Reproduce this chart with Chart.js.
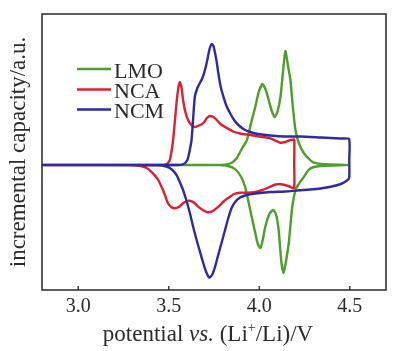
<!DOCTYPE html>
<html lang="en">
<head>
    <meta charset="UTF-8">
    <title>Incremental capacity curves</title>
    <style>
        body { margin: 0; background: #fff; }
        #wrap { width: 400px; height: 351px; }
    </style>
</head>
<body>

<div id="wrap">
    <canvas id="icChart" width="400" height="351"></canvas>
</div>

<script src="https://cdn.jsdelivr.net/npm/chart.js"></script>
<script>
  // series: potential (V) and incremental capacity (a.u.)
  const seriesNames = ['LMO', 'NCA', 'NCM'];
  const seriesColors = ['#4e9e2a', '#e01e30', '#2e2aa2'];
  const xTicks = [3.0, 3.5, 4.0, 4.5];

  const lmoPotential = [3.50, 3.783, 3.839, 3.872, 3.900, 3.932, 3.956, 3.978, 3.997, 4.018, 4.036, 4.052, 4.069, 4.085,
    4.100, 4.117, 4.131, 4.144, 4.158, 4.172, 4.186, 4.200, 4.218, 4.246, 4.278, 4.302, 4.357, 4.494,
    4.357, 4.302, 4.272, 4.246, 4.218, 4.200, 4.182, 4.163, 4.147, 4.135, 4.122, 4.107, 4.092, 4.076,
    4.056, 4.033, 4.019, 4.006, 3.992, 3.978, 3.950, 3.922, 3.900, 3.872, 3.839, 3.783, 3.50];
  const lmoCapacity = [0, 0, 1.5, 6, 15, 25, 43, 58, 73, 81, 75, 65, 54, 48,
    53, 68, 93, 114, 100, 85, 57, 35, 22, 12, 5.5, 2.3, 0.7, 0,
    -0.7, -2, -5, -12, -19, -25, -42, -78, -97, -108, -97, -65, -49, -45,
    -49, -62, -75, -83, -79, -68, -45, -22, -12, -5, -1.5, 0, 0];

  const ncaPotential = [2.80, 3.45, 3.489, 3.506, 3.524, 3.543, 3.553, 3.561, 3.571, 3.579,
    3.592, 3.607, 3.625, 3.644, 3.667, 3.691, 3.711, 3.728, 3.747, 3.765,
    3.789, 3.821, 3.856, 3.894, 3.950, 4.017, 4.061, 4.094, 4.117, 4.144,
    4.172, 4.192, 4.194, 4.193, 4.192,
    4.161, 4.117, 4.089, 4.061, 4.017, 3.978, 3.933, 3.894, 3.861, 3.839,
    3.806, 3.774, 3.744, 3.718, 3.692, 3.663, 3.639, 3.617, 3.594, 3.579,
    3.556, 3.533, 3.514, 3.496, 3.481, 3.468, 3.442, 3.413, 3.378, 3.339,
    3.283, 2.80];
  const ncaCapacity = [0, 0, 1, 5, 25, 62, 77, 83, 77, 65,
    53, 45, 40, 38, 39.5, 42, 47, 49, 48, 45,
    40.5, 37, 33.5, 31.5, 30, 28, 26.7, 24, 22.3, 23,
    25, 25.5, 24, 0, -23,
    -21, -19.3, -19.5, -21.7, -25, -27, -27.7, -27.7, -29, -31.7,
    -36, -41.7, -46, -47.3, -45.5, -41.7, -37.5, -35.7, -36.5, -38.3,
    -42, -43.3, -42, -38.3, -31, -25, -15, -8.3, -3, -0.8,
    0, 0];

  const ncmPotential = [2.80, 3.55, 3.583, 3.603, 3.614, 3.626, 3.635, 3.644, 3.658, 3.672,
    3.686, 3.700, 3.713, 3.724, 3.737, 3.747, 3.756, 3.765, 3.774, 3.786,
    3.802, 3.819, 3.839, 3.861, 3.885, 3.917, 3.950, 3.994, 4.061, 4.144,
    4.228, 4.339, 4.450, 4.496, 4.497, 4.496,
    4.472, 4.450, 4.411, 4.372, 4.339, 4.283, 4.209, 4.144, 4.061, 3.978,
    3.922, 3.894, 3.867, 3.847, 3.829, 3.811, 3.793, 3.774, 3.756, 3.741,
    3.724, 3.708, 3.691, 3.672, 3.654, 3.635, 3.617, 3.597, 3.579, 3.561,
    3.543, 3.517, 3.487, 3.439, 2.80];
  const ncmCapacity = [0, 0, 1, 5, 13, 25, 47, 68, 77, 82,
    87, 95, 105, 115, 121, 119, 111.7, 103, 91.7, 79,
    68.3, 59, 51.7, 45, 40, 35.5, 33, 31, 29.5, 28.5,
    28.5, 27.5, 26.5, 26, 5, -13.3,
    -17, -19, -21, -22.5, -23.5, -24.5, -25.5, -26.5, -27, -28.5,
    -30.5, -32.5, -37, -43, -53, -65, -77, -89.5, -101.7, -109.5,
    -112.5, -107.5, -98.3, -86.5, -75, -62, -48.3, -35, -25, -17,
    -10, -4.5, -1.5, -0.2, 0];

  const serif = "'Liberation Serif', 'Times New Roman', serif";
  const textColor = '#2a2a2a';

  function toPoints(xs, ys) {
    return xs.map((x, i) => ({x: x, y: ys[i]}));
  }

  const allSeries = [
    toPoints(lmoPotential, lmoCapacity),
    toPoints(ncaPotential, ncaCapacity),
    toPoints(ncmPotential, ncmCapacity)
  ];

  // frame, inward ticks, legend and x title
  const decorPlugin = {
    id: 'decor',
    afterDatasetsDraw(chart) {
      const ctx = chart.ctx;
      const area = chart.chartArea;
      const xs = chart.scales.x;
      ctx.save();
      ctx.strokeStyle = '#333';
      ctx.lineWidth = 1.6;
      ctx.strokeRect(area.left, area.top, area.right - area.left, area.bottom - area.top);

      ctx.lineWidth = 1.4;
      xTicks.forEach(v => {
        const px = xs.getPixelForValue(v);
        ctx.beginPath();
        ctx.moveTo(px, area.bottom);
        ctx.lineTo(px, area.bottom - 4);
        ctx.stroke();
      });

      // legend
      const legY = [69, 89.5, 109.5];
      chart.data.datasets.forEach((ds, i) => {
        ctx.strokeStyle = ds.borderColor;
        ctx.lineWidth = 2.4;
        ctx.beginPath();
        ctx.moveTo(77, legY[i]);
        ctx.lineTo(111, legY[i]);
        ctx.stroke();
        ctx.fillStyle = textColor;
        ctx.font = '22px ' + serif;
        ctx.textBaseline = 'alphabetic';
        ctx.textAlign = 'left';
        ctx.fillText(ds.label, 114, legY[i] + 8.5);
      });

      // x axis title with italic "vs." and superscript "+"
      const parts = [
        {t: 'potential ', f: '23px ' + serif, dy: 0},
        {t: 'vs.', f: 'italic 23px ' + serif, dy: 0},
        {t: ' (Li', f: '23px ' + serif, dy: 0},
        {t: '+', f: '14px ' + serif, dy: -9},
        {t: '/Li)/V', f: '23px ' + serif, dy: 0}
      ];
      let total = 0;
      parts.forEach(p => { ctx.font = p.f; p.w = ctx.measureText(p.t).width; total += p.w; });
      let x = 208 - total / 2;
      const base = 341;
      ctx.fillStyle = textColor;
      parts.forEach(p => {
        ctx.font = p.f;
        ctx.fillText(p.t, x, base + p.dy);
        x += p.w;
      });
      ctx.restore();
    }
  };

  const ctx = document.getElementById('icChart').getContext('2d');
  const myChart = new Chart(ctx, {
    type: 'scatter',
    data: {
      datasets: seriesNames.map((name, i) => ({
        label: name,
        data: allSeries[i],
        showLine: true,
        borderColor: seriesColors[i],
        backgroundColor: seriesColors[i],
        borderWidth: 2.4,
        pointRadius: 0,
        tension: 0.2,
        fill: false,
        order: 2 - i
      }))
    },
    options: {
      responsive: false,
      animation: false,
      layout: { padding: { left: 0, top: 14, right: 14, bottom: 0 } },
      plugins: {
        legend: { display: false },
        tooltip: { enabled: false }
      },
      scales: {
        x: {
          type: 'linear',
          min: 2.8,
          max: 4.7,
          afterBuildTicks: scale => { scale.ticks = xTicks.map(v => ({value: v})); },
          afterFit: scale => { scale.height = 61; },
          grid: { display: false, drawTicks: false },
          border: { display: false },
          ticks: {
            padding: 5,
            color: textColor,
            font: { family: serif, size: 20 },
            callback: v => v.toFixed(1)
          }
        },
        y: {
          type: 'linear',
          min: -125,
          max: 151,
          afterFit: scale => { scale.width = 42; },
          grid: { display: false, drawTicks: false },
          border: { display: false },
          ticks: { display: false },
          title: {
            display: true,
            text: 'incremental capacity/a.u.',
            color: textColor,
            font: { family: serif, size: 23 },
            padding: { top: 5, bottom: 0 }
          }
        }
      }
    },
    plugins: [decorPlugin]
  });
</script>

</body>
</html>
